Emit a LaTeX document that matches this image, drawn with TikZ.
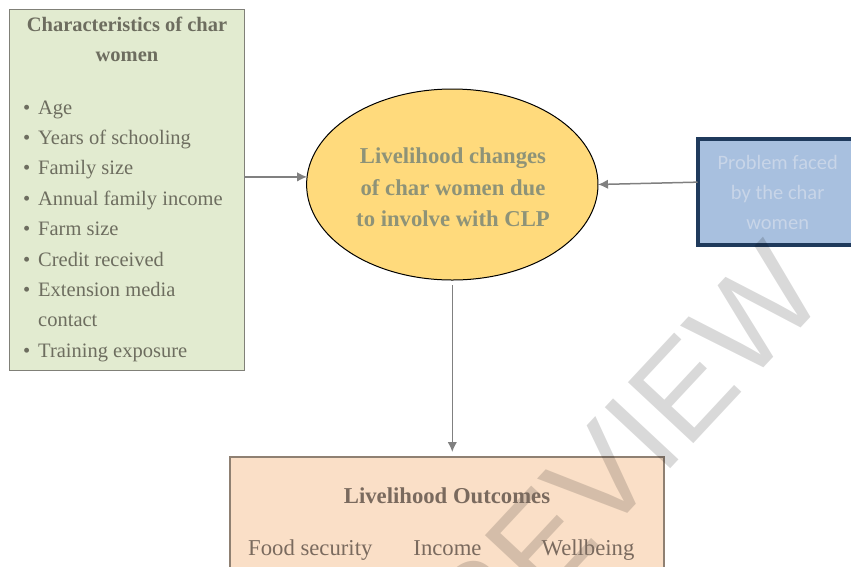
\documentclass[tikz,border=0pt]{standalone}
\usepackage{fontspec}
\setmainfont{Liberation Serif}
\newfontfamily\calibfont{Carlito}
\newfontfamily\wmfont{Liberation Sans}
\usetikzlibrary{shapes.geometric,arrows.meta,calc}
\definecolor{lgreen}{HTML}{E2EBD0}
\definecolor{lgreenborder}{HTML}{808078}
\definecolor{lgreentext}{HTML}{6D6D5F}
\definecolor{ellfill}{HTML}{FFDA7C}
\definecolor{elltext}{HTML}{8E9378}
\definecolor{bluefill}{HTML}{A8C0DF}
\definecolor{blueborder}{HTML}{1F3A5C}
\definecolor{bluetext}{HTML}{C8D5E8}
\definecolor{peachfill}{HTML}{FADFC7}
\definecolor{peachborder}{HTML}{8F8072}
\definecolor{peachtext}{HTML}{7A6A5E}
\definecolor{arrowgray}{HTML}{808080}
\tikzset{
  boxst/.style={rectangle, inner sep=0pt, outer sep=0pt},
  lboxst/.style={boxst, fill=lgreen, draw=lgreenborder, line width=1pt},
  rboxst/.style={boxst, fill=bluefill, draw=blueborder, line width=4pt},
  oboxst/.style={boxst, fill=peachfill, draw=peachborder, line width=1.5pt},
  ellst/.style={ellipse, fill=ellfill, draw=black, line width=1pt, inner sep=0pt, outer sep=0pt},
  ltext/.style={inner sep=0pt, text=lgreentext, font=\fontsize{20.5}{24}\selectfont},
  ltitle/.style={ltext, font=\fontsize{20.5}{24}\selectfont\bfseries},
  etext/.style={inner sep=0pt, text=elltext, font=\fontsize{22.7}{26}\selectfont\bfseries},
  btext/.style={inner sep=0pt, text=bluetext, font=\fontsize{20.5}{24}\selectfont\calibfont},
  otitle/.style={inner sep=0pt, text=peachtext, font=\fontsize{22.7}{26}\selectfont\bfseries},
  otext/.style={inner sep=0pt, text=peachtext, font=\fontsize{22.7}{26}\selectfont},
  arr/.style={draw=arrowgray, line width=1.5pt, -{Latex[length=10pt,width=9.5pt]}},
  wmark/.style={inner sep=0pt, text=black, text opacity=0.15, font=\fontsize{130}{130}\selectfont\wmfont}
}
\newcommand{\bul}[1]{\makebox[15pt][l]{\textbullet}#1}
\begin{document}
\begin{tikzpicture}[x=1pt,y=-1pt]
\useasboundingbox (0,0) rectangle (851,566);
\clip (0,0) rectangle (851,566);
% boxes
\node[lboxst, minimum width=235pt, minimum height=361pt] (lbox) at (126.75,189.5) {};
\node[ellst, minimum width=291.4pt, minimum height=191pt] (ell) at (452.3,184.5) {};
\node[rboxst, minimum width=160.5pt, minimum height=105.4pt] (rbox) at (777.75,192) {};
\node[oboxst, minimum width=434pt, minimum height=163pt] (obox) at (446.75,538.5) {};
% watermark
\node[wmark, rotate=47] (wm) at (622,455) {REVIEW};
% left box texts
\node[ltitle, anchor=base] (lt1) at (127,31) {Characteristics of char};
\node[ltitle, anchor=base] (lt2) at (127,61) {women};
\node[ltext, anchor=base west] (li1) at (23,114) {\bul{Age}};
\node[ltext, anchor=base west] (li2) at (23,144.4) {\bul{Years of schooling}};
\node[ltext, anchor=base west] (li3) at (23,174.8) {\bul{Family size}};
\node[ltext, anchor=base west] (li4) at (23,205.2) {\bul{Annual family income}};
\node[ltext, anchor=base west] (li5) at (23,235.6) {\bul{Farm size}};
\node[ltext, anchor=base west] (li6) at (23,266) {\bul{Credit received}};
\node[ltext, anchor=base west] (li7) at (23,296.4) {\bul{Extension media}};
\node[ltext, anchor=base west] (li8) at (38,326.8) {contact};
\node[ltext, anchor=base west] (li9) at (23,357.2) {\bul{Training exposure}};
% ellipse texts
\node[etext, anchor=base] (e1) at (453,163.3) {Livelihood changes};
\node[etext, anchor=base] (e2) at (453,195) {of char women due};
\node[etext, anchor=base] (e3) at (453,226.7) {to involve with CLP};
% right box texts
\node[btext, anchor=base] (b1) at (777.7,169.3) {Problem faced};
\node[btext, anchor=base] (b2) at (777.7,199.3) {by the char};
\node[btext, anchor=base] (b3) at (777.7,229.3) {women};
% outcome texts
\node[otitle, anchor=base] (o0) at (447,503.3) {Livelihood Outcomes};
\node[otext, anchor=base west] (o1) at (248,555) {Food security};
\node[otext, anchor=base] (o2) at (447.5,555) {Income};
\node[otext, anchor=base] (o3) at (588,555) {Wellbeing};
% connectors
\draw[arr] (lbox.east |- ell.177.5) -- (ell.177.5);
\draw[arr] (rbox.173.5) -- (ell.east);
\draw[arr, shorten <=5pt, shorten >=5pt] (ell.south) -- (ell.south |- obox.north);
\end{tikzpicture}
\end{document}
